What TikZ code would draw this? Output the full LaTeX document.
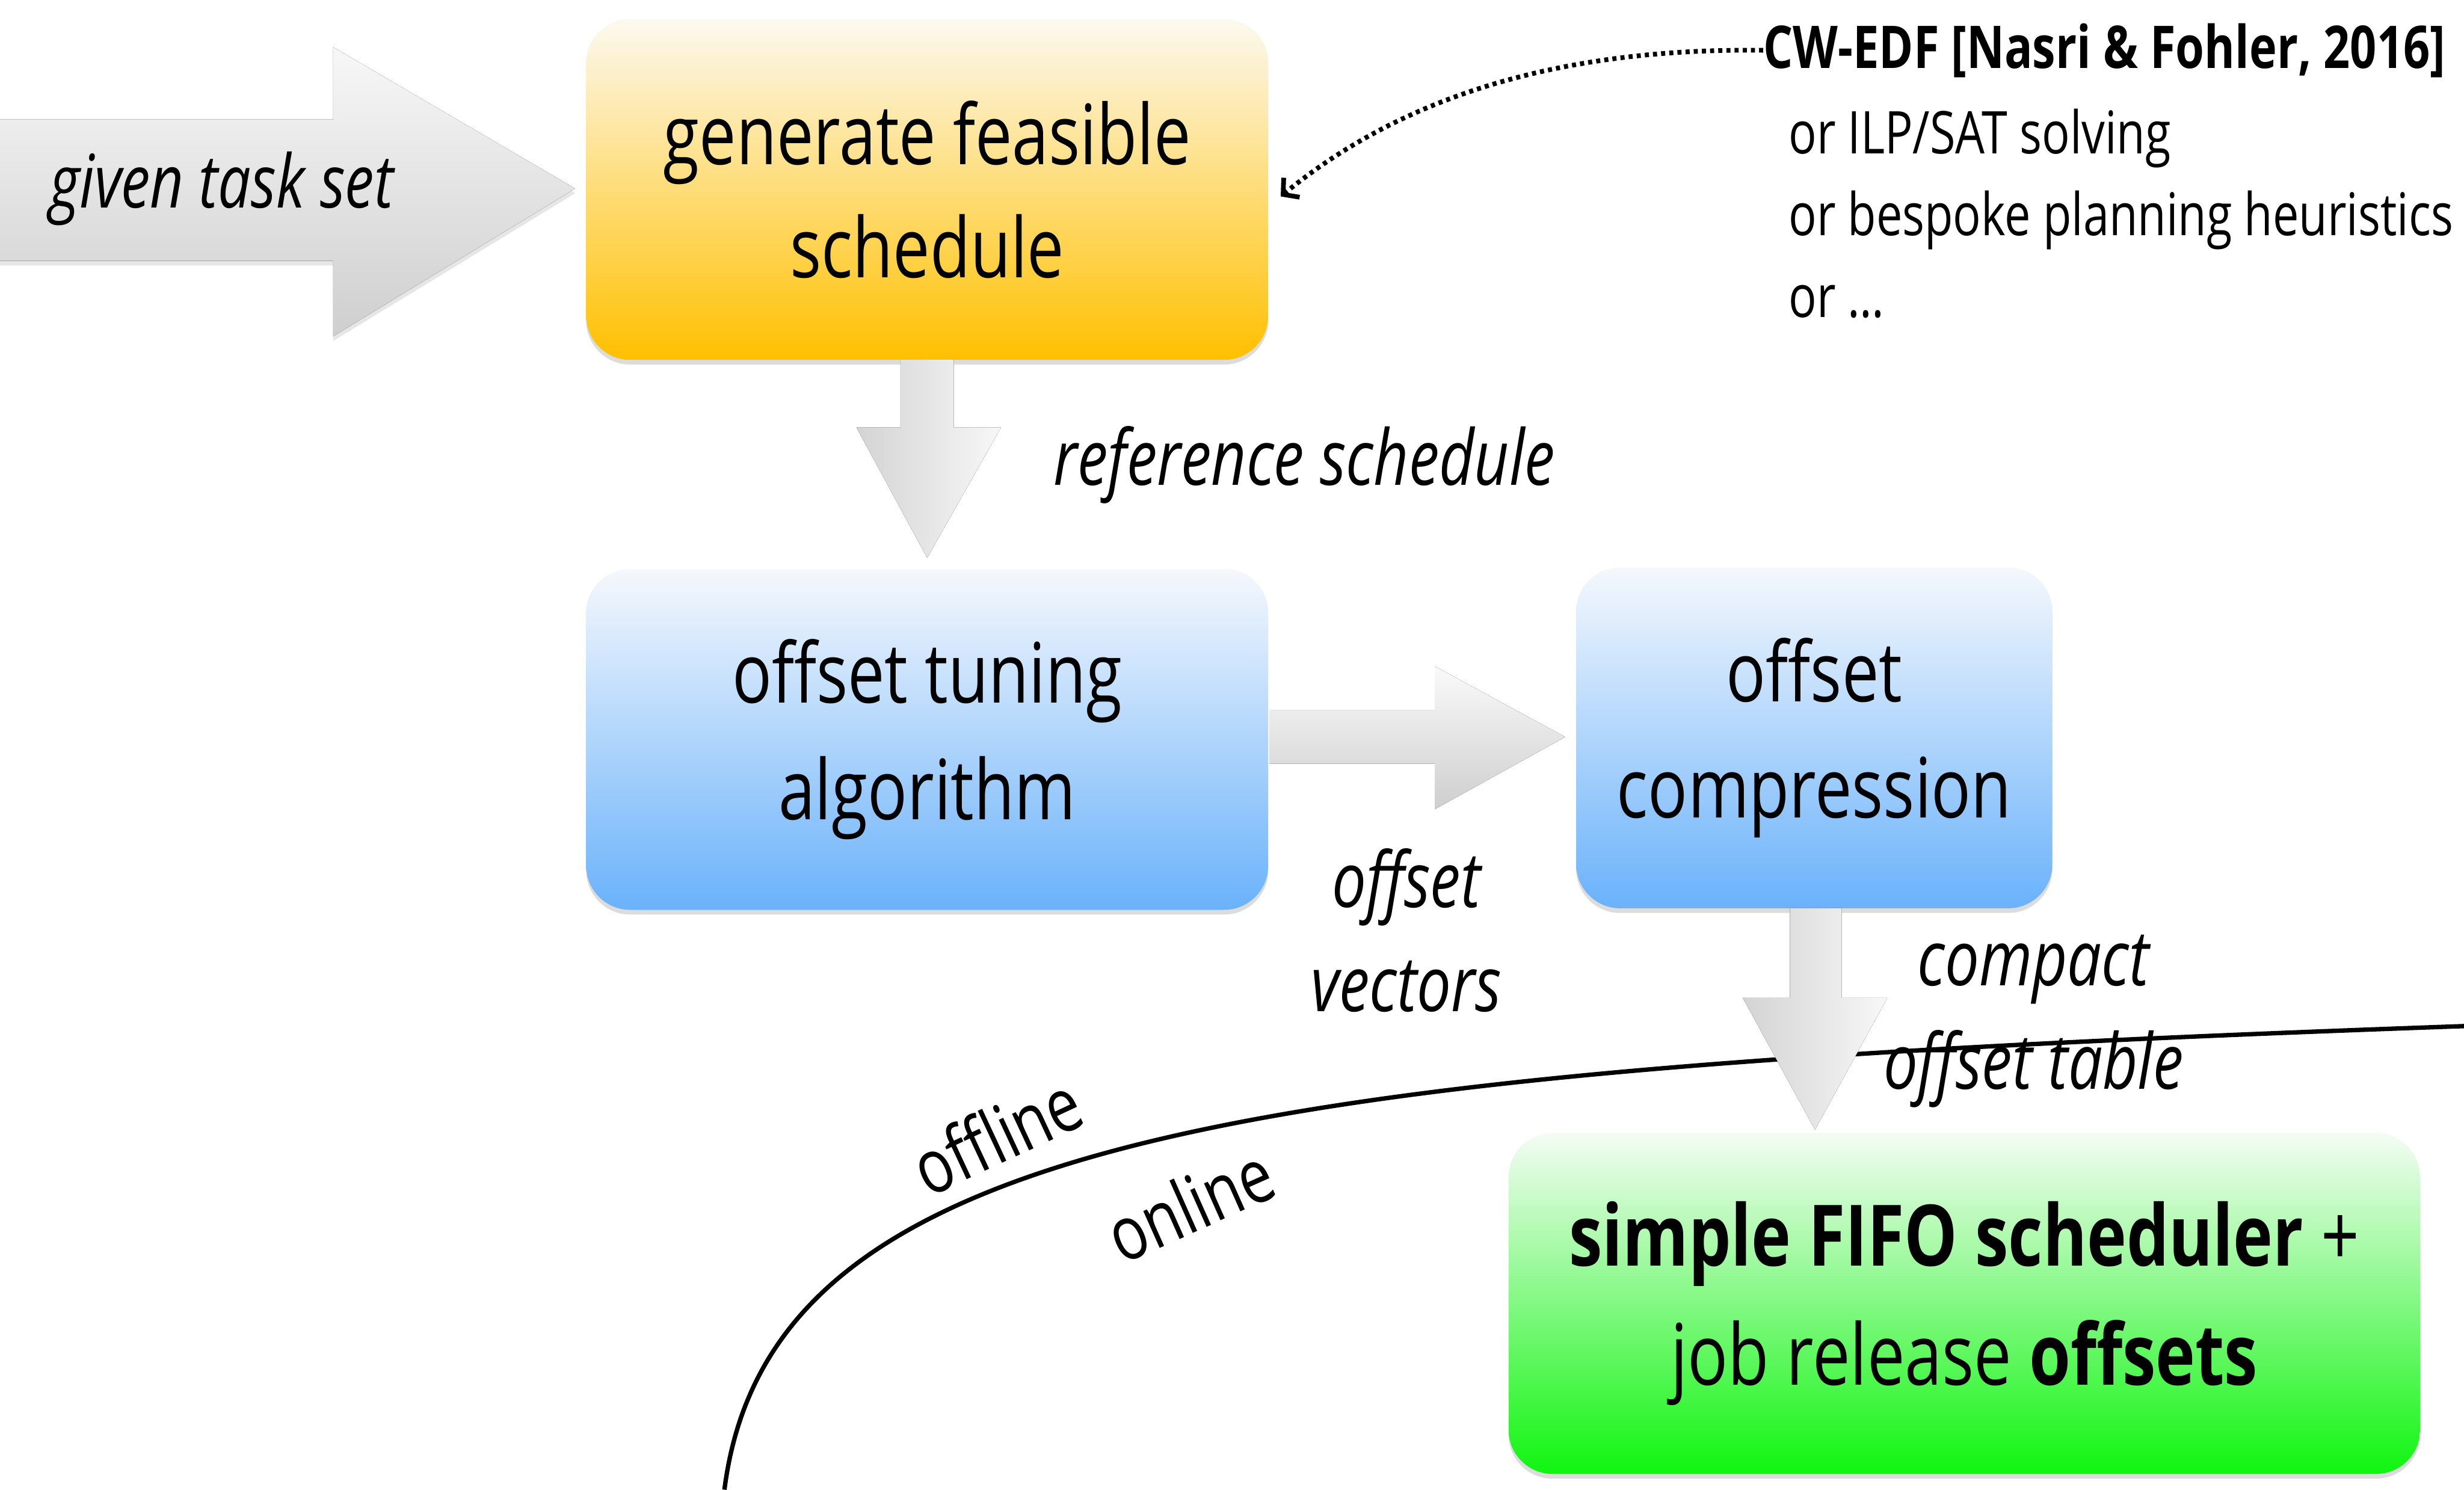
\documentclass[tikz,border=0pt]{standalone}
\usepackage{fontspec}
\setmainfont{Open Sans}[FakeStretch=0.79]
\usetikzlibrary{shadows,arrows.meta,calc}
\definecolor{ytop}{HTML}{FCF9F0}
\definecolor{ymid}{HTML}{FDDF84}
\definecolor{ybot}{HTML}{FFC000}
\definecolor{btop}{HTML}{F5F8FC}
\definecolor{bmid}{HTML}{B3D5F8}
\definecolor{bbot}{HTML}{6AB2FB}
\definecolor{gtop}{HTML}{F4FCF4}
\definecolor{gmid}{HTML}{88F688}
\definecolor{gbot}{HTML}{10F510}
\begin{document}
\begin{tikzpicture}[x=1pt,y=-1pt,
  procbox/.style={rounded corners=28pt, inner sep=0pt, align=center,
    font=\fontsize{53}{74}\selectfont,
    drop shadow={opacity=0.28, shadow xshift=0pt, shadow yshift=-3pt}},
  lbl/.style={font=\fontsize{49}{66}\selectfont\itshape, align=center, inner sep=0pt},
  sidelbl/.style={font=\fontsize{48}{56}\selectfont, inner sep=0pt},
  reftxt/.style={font=\fontsize{37.5}{52}\selectfont, align=left, inner sep=0pt, anchor=west},
  vfat/.style={left color=gray!34, right color=gray!6, draw=none},
  hfat/.style={top color=gray!4, bottom color=gray!38, draw=none}]
\useasboundingbox (0,0) rectangle (1568,948);

% offline / online boundary
\draw[line width=2.8pt] (461,948) .. controls (490,720) and (800,680) .. (1568,653);
\node[sidelbl, rotate=25] (offl) at (634,722) {offline};
\node[sidelbl, rotate=24] (onl) at (757,766) {online};

% boxes
\node[procbox, minimum width=434pt, minimum height=217pt, top color=ytop, middle color=ymid, bottom color=ybot] (gen) at (590,120.5) {generate feasible\\[-2pt]schedule};
\node[procbox, minimum width=434pt, minimum height=217pt, top color=btop, middle color=bmid, bottom color=bbot] (tune) at (590,470.5) {offset tuning\\algorithm};
\node[procbox, minimum width=303pt, minimum height=217pt, top color=btop, middle color=bmid, bottom color=bbot] (comp) at (1154.5,469.5) {offset\\compression};
\node[procbox, font=\fontsize{54}{76}\selectfont, minimum width=580pt, minimum height=217pt, top color=gtop, middle color=gmid, bottom color=gbot] (fifo) at (1250,829.5) {\textbf{simple FIFO scheduler} +\\job release \textbf{offsets}};

% input arrow
\fill[top color=gray!6, bottom color=gray!38, drop shadow={opacity=0.2, shadow xshift=0pt, shadow yshift=-3pt}]
  (0,76) -- (212,76) -- (212,30) -- (366,120) -- (212,214) -- (212,166) -- (0,166) -- cycle;
\node[lbl, font=\fontsize{47}{56}\selectfont\itshape] (given) at (141,120) {given task set};

% fat connectors
\fill[vfat] (573,229) -- (607,229) -- (607,272) -- (637,272) -- (590,355) -- (545,272) -- (573,272) -- cycle;
\fill[hfat] (808,452) -- (913,452) -- (913,424) -- (996,469) -- (913,515) -- (913,486) -- (808,486) -- cycle;
\fill[vfat] (1139,578) -- (1172,578) -- (1172,635) -- (1201,635) -- (1155,719) -- (1109,635) -- (1139,635) -- cycle;

% labels
\node[lbl] (refsch) at (830,296) {reference schedule};
\node[lbl] (offvec) at (895,592) {offset\\vectors};
\node[lbl] (cotab) at (1294,650) {compact\\offset table};

% references
\node[reftxt] (cw) at (1122,32) {\textbf{CW-EDF [Nasri \& Fohler, 2016]}};
\node[reftxt] (alts) at (1138,136) {or ILP/SAT solving\\or bespoke planning heuristics\\or …};
\draw[line width=3pt, dash pattern=on 2.6pt off 2.6pt,
      -{Straight Barb[length=7pt, width=16pt, line width=3pt]}]
  (cw.west) .. controls (960,30) and (870,80) .. (815,125);
\end{tikzpicture}
\end{document}
